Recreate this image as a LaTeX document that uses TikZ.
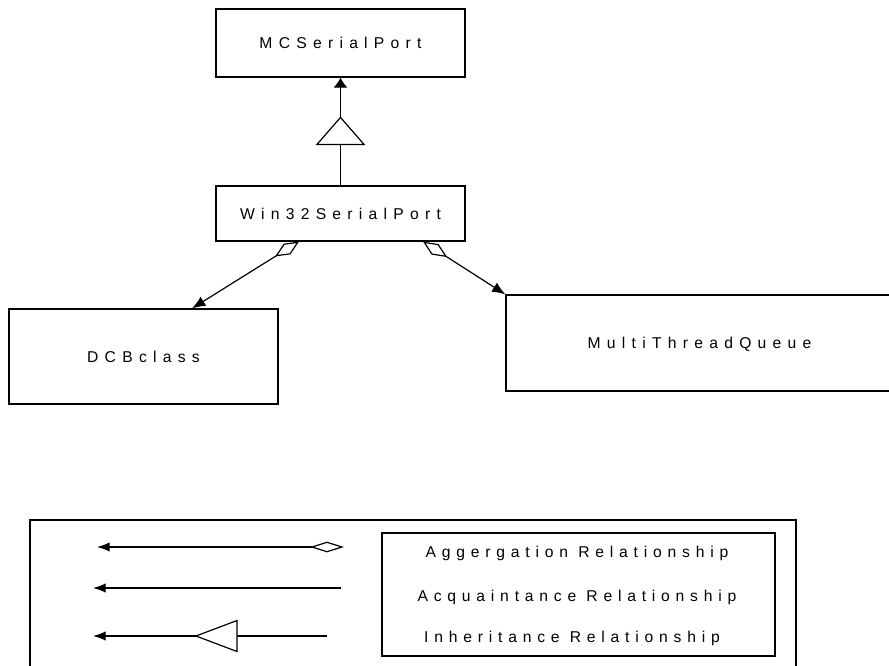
\documentclass[tikz,border=0pt]{standalone}
\usepackage{fontspec}
\setmainfont{Liberation Sans}
\newfontfamily\boxfont{Liberation Sans}[LetterSpace=40]
\newfontfamily\keyfont{Liberation Sans}[LetterSpace=37]
\usetikzlibrary{arrows.meta,calc}

\tikzset{
  classbox/.style={draw, rectangle, inner sep=0pt, font=\boxfont\fontsize{11.75pt}{14pt}\selectfont,
                   text height=8.4pt, text depth=0pt},
  keytext/.style={inner sep=0pt, font=\keyfont\fontsize{11.75pt}{14pt}\selectfont,
                  text height=8.4pt, text depth=0pt},
  frame/.style={draw, rectangle, inner sep=0pt},
  headtip/.tip={Latex[length=7.5pt,width=10.5pt]},
  linktip/.tip={Latex[length=10pt,width=8pt]},
  keytip/.tip={Latex[length=9.5pt,width=7pt]},
}

\begin{document}
\begin{tikzpicture}[x=0.75pt, y=-0.75pt, line width=0.9pt]
  \useasboundingbox (0,0) rectangle (889,665);
  \clip (0,0) rectangle (889,665);

  % class boxes
  \node[classbox, minimum width=186.75pt, minimum height=51pt]    (mc)  at (340.5,43)   {MCSerialPort};
  \node[classbox, minimum width=186.75pt, minimum height=41.25pt] (win) at (340.5,213.5) {Win32SerialPort};
  \node[classbox, minimum width=201.75pt, minimum height=71.25pt] (dcb) at (143.5,356.5) {DCBclass};
  \node[classbox, minimum width=290.25pt, minimum height=72pt]    (mtq) at (699.5,343)   {MultiThreadQueue};

  % inheritance: Win32SerialPort -> MCSerialPort
  \draw[-headtip] (win.north) -- (mc.south);
  \draw[fill=white] ($(win.north)+(-23.5,-41)$) -- ($(win.north)+(0,-68)$)
                    -- ($(win.north)+(23.5,-41)$) -- cycle;

  % aggregations out of Win32SerialPort
  \coordinate (wl) at ($(win.south)+(-41.5,0)$);
  \coordinate (dt) at ($(dcb.north)+(48.5,0)$);
  \draw[{Diamond[open,length=21pt,width=9.5pt]}-linktip] (wl) -- (dt);
  \coordinate (wr) at ($(win.south)+(82.5,0)$);
  \draw[{Diamond[open,length=21.5pt,width=9.5pt]}-linktip] (wr) -- (mtq.north west);

  % legend
  \node[frame, minimum width=574.5pt, minimum height=135pt] (legend) at (413,610) {};
  \node[frame, minimum width=294.75pt, minimum height=92.25pt] (keys) at (578.5,594.5) {};
  \node[keytext] (tagg) at (577,552) {Aggergation Relationship};
  \node[keytext] (tacq) at (577,596) {Acquaintance Relationship};
  \node[keytext] (tinh) at (572,637) {Inheritance Relationship};

  \coordinate (ag1) at (97,547);
  \coordinate (ag2) at (344,547);
  \draw[keytip-{Diamond[open,length=25.5pt,width=8pt]}] (ag1) -- (ag2);

  \coordinate (ac1) at (93,588);
  \coordinate (ac2) at (341,588);
  \draw[keytip-] (ac1) -- (ac2);

  \coordinate (in1) at (93,636);
  \coordinate (in2) at (327,636);
  \draw[keytip-] (in1) -- (in2);
  \draw[fill=white] (196,636) -- (237,620.5) -- (237,651.5) -- cycle;
\end{tikzpicture}
\end{document}
